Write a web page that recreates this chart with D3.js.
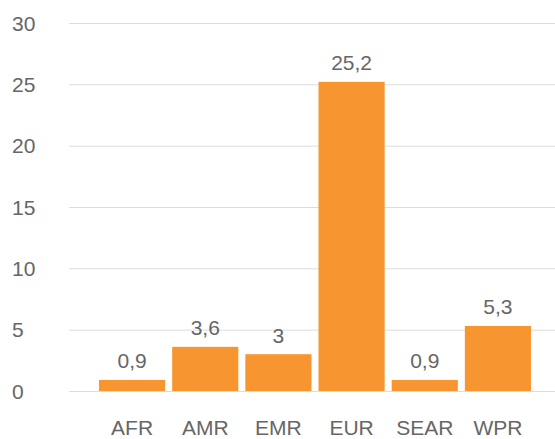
<!DOCTYPE html>
<html>
<head>
<meta charset="utf-8">
<script src="https://cdn.jsdelivr.net/npm/d3@7"></script>
<style>
  body { margin: 0; background: #fff; }
  text { font-family: "Liberation Sans", Arial, sans-serif; fill: #666; }
</style>
</head>
<body>
<div id="chart"></div>
<script>
// data
var regions = ["AFR", "AMR", "EMR", "EUR", "SEAR", "WPR"];
var values = [0.9, 3.6, 3, 25.2, 0.9, 5.3];
var yTicks = [0, 5, 10, 15, 20, 25, 30];

var svgWidth = 555;
var svgHeight = 439;

var svg = d3.select("#chart")
  .append("svg")
  .attr("width", svgWidth)
  .attr("height", svgHeight);

var x = d3.scaleBand()
  .domain(regions)
  .range([95.5, 534.5])
  .paddingInner(0.096)
  .paddingOuter(0.048);

var y = d3.scaleLinear()
  .domain([0, 30])
  .range([391, 23]);

// gridlines
svg.append("g")
  .selectAll("line")
  .data(yTicks)
  .enter()
  .append("line")
  .attr("x1", 69)
  .attr("x2", 555)
  .attr("y1", d => y(d) + 0.5)
  .attr("y2", d => y(d) + 0.5)
  .attr("stroke", "#dcdcdc")
  .attr("stroke-width", 1);

// y tick labels
svg.append("g")
  .selectAll("text")
  .data(yTicks)
  .enter()
  .append("text")
  .attr("x", 12)
  .attr("y", d => y(d) + 7.5)
  .style("font-size", "21px")
  .text(d => d);

// bars
svg.append("g")
  .selectAll("rect")
  .data(values)
  .enter()
  .append("rect")
  .attr("x", (d, i) => x(regions[i]))
  .attr("y", d => y(d))
  .attr("width", x.bandwidth())
  .attr("height", d => y(0) - y(d))
  .attr("fill", "#f79631");

// value labels
svg.append("g")
  .selectAll("text")
  .data(values)
  .enter()
  .append("text")
  .attr("x", (d, i) => x(regions[i]) + x.bandwidth() / 2)
  .attr("y", d => y(d) - 11.5)
  .attr("text-anchor", "middle")
  .style("font-size", "21px")
  .text(d => String(d).replace(".", ","));

// category labels
svg.append("g")
  .selectAll("text")
  .data(regions)
  .enter()
  .append("text")
  .attr("x", d => x(d) + x.bandwidth() / 2)
  .attr("y", 434.5)
  .attr("text-anchor", "middle")
  .style("font-size", "21px")
  .text(d => d);
</script>
</body>
</html>
